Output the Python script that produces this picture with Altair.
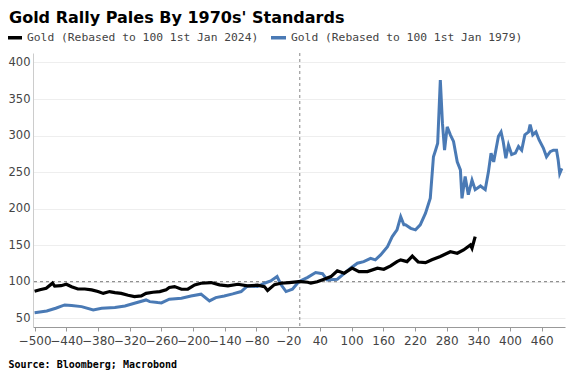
import altair as alt
import pandas as pd

# Gold rebased to 100 on 1st Jan 2024 (x = trading days from rebase date)
black_days = [-500, -490, -478, -466, -462, -450, -440, -430, -418, -405, -392, -380, -370, -358,
              -348, -336, -323, -311, -298, -289, -276, -263, -251, -245, -235, -222, -210, -197,
              -185, -166, -150, -134, -115, -97, -78, -65, -59, -46, -34, -18, 0, 4, 17, 23, 35,
              48, 61, 73, 86, 101, 114, 130, 149, 161, 174, 186, 193, 205, 215, 226, 240, 252,
              268, 287, 300, 312, 325, 328, 334]
black_vals = [87, 89, 91, 98, 94, 94.5, 96.5, 93, 90, 90, 88.8, 86.5, 84, 86.5,
              85, 84, 81.5, 79.6, 80.5, 84, 85.6, 86.5, 89, 92, 93.3, 89.7, 89.7, 95.6,
              97.9, 98.8, 95.6, 94.2, 96.5, 94.2, 95.2, 93.3, 88, 96, 97.9, 98.8, 100, 100, 99.3, 98, 100,
              103.4, 107, 115, 111.6, 118.5, 113.8, 113.8, 118.5, 117, 121.6, 127.5, 129.9, 127.5, 135, 127, 126, 130,
              134.4, 141, 139, 143.5, 150.4, 145.8, 161.7]

# Gold rebased to 100 on 1st Jan 1979
blue_days = [-500, -477, -460, -443, -430, -411, -389, -373, -348, -329, -311, -289, -282, -267,
             -260, -245, -222, -204, -185, -169, -157, -141, -125, -109, -97, -78, -65, -53, -41,
             -34, -24, -12, 0, 17, 32, 45, 54, 73, 83, 98, 111, 123, 136, 145, 155, 168, 177, 186,
             193, 199, 202, 212, 221, 230, 240, 249, 255, 259, 263, 268, 272, 276, 281, 287, 293,
             300, 306, 309, 315, 321, 328, 334, 344, 353, 359, 364, 369, 378, 383, 387, 392, 397,
             403, 410, 416, 422, 428, 435, 438, 443, 449, 455, 463, 469, 476, 482, 488, 491, 494, 498]
blue_vals = [57.5, 60, 63.7, 68.2, 67.3, 65.9, 61.4, 63.7, 64.6, 66.8, 70.5, 75, 72.7, 71.4,
             71, 76, 77.4, 80.5, 82.9, 73.7, 78.2, 80.5, 83.3, 86.5, 94.2, 93.3, 97.9, 101, 107,
             96.5, 86.5, 89.7, 100, 106, 112.5, 111, 102.4, 103.4, 109.3, 118.5, 125.3, 127.5, 132, 129.9, 136.7, 148, 161.7, 171,
             189, 177.8, 177.8, 173, 171, 177.8, 193.8, 214.3, 271, 280, 289.6, 376, 317, 280, 312, 301, 292,
             264, 253, 214, 244, 219, 239, 226, 231, 226, 250, 276, 264, 299, 305, 292, 269, 287,
             274, 276, 285, 280, 301, 305, 315, 301, 305, 294, 283, 271, 278, 280, 280, 267, 248, 255]

series_names = ["Gold (Rebased to 100 1st Jan 2024)", "Gold (Rebased to 100 1st Jan 1979)"]
series_colors = ["#000000", "#4a7ab5"]
x_ticks = list(range(-500, 461, 60))
y_ticks = list(range(50, 401, 50))

black_df = pd.DataFrame({"day": black_days, "value": black_vals, "series": series_names[0]})
blue_df = pd.DataFrame({"day": blue_days, "value": blue_vals, "series": series_names[1]})

color = alt.Color("series:N",
                  scale=alt.Scale(domain=series_names, range=series_colors),
                  legend=alt.Legend(title=None, orient="none", legendX=-28, legendY=-25,
                                    direction="horizontal", symbolType="stroke",
                                    symbolStrokeWidth=3.5, symbolSize=225, labelLimit=400,
                                    labelFont="DejaVu Sans Mono", labelFontSize=11.3,
                                    labelColor="#444444", columnPadding=5, labelOffset=3))

x_enc = alt.X("day:Q",
              scale=alt.Scale(domain=[-503, 504], nice=False, zero=False),
              axis=alt.Axis(values=x_ticks, tickCount=40, grid=False, domainColor="#999999",
                            tickColor="#999999", tickSize=4, labelPadding=4,
                            labelFont="DejaVu Sans", labelFontSize=12,
                            labelColor="#444444", labelOverlap=False, labelFlush=False,
                            title="Source: Bloomberg; Macrobond", titleFont="DejaVu Sans Mono",
                            titleFontWeight="bold", titleFontSize=10, titleColor="#000000",
                            titleX=-25, titleY=37, titleAlign="left", titleBaseline="middle",
                            titleAnchor="start"))
y_enc = alt.Y("value:Q",
              scale=alt.Scale(domain=[38, 413], nice=False, zero=False),
              axis=alt.Axis(values=y_ticks, tickCount=20, grid=True, gridColor="#eeeeee",
                            domainColor="#cccccc", ticks=False, labelPadding=3,
                            labelFont="DejaVu Sans", labelFontSize=11.5,
                            labelColor="#444444", labelOverlap=False, labelFlush=False, title=None))

blue_line = alt.Chart(blue_df).mark_line(strokeWidth=3).encode(x=x_enc, y=y_enc, color=color)
black_line = alt.Chart(black_df).mark_line(strokeWidth=3.2).encode(x=x_enc, y=y_enc, color=color)

hrule = alt.Chart(pd.DataFrame({"v": [100]})).mark_rule(
    color="#777777", strokeDash=[3, 3], strokeWidth=1).encode(y="v:Q")
vrule = alt.Chart(pd.DataFrame({"d": [2]})).mark_rule(
    color="#888888", strokeDash=[3, 3], strokeWidth=1).encode(x="d:Q")

chart = alt.layer(hrule, vrule, blue_line, black_line).properties(
    width=532, height=274,
    autosize=alt.AutoSizeParams(type="none"),
    padding={"left": 25, "top": 45, "right": 5, "bottom": 43},
    title=alt.TitleParams("Gold Rally Pales By 1970s' Standards", anchor="start", frame="group",
                          font="DejaVu Sans", fontSize=16, fontWeight="bold", color="#000000",
                          dx=-24, offset=2),
).configure_view(stroke=None).configure_axis(labelOverlap=False)

chart.save("out.html", embed_options={"renderer": "svg", "actions": False})
